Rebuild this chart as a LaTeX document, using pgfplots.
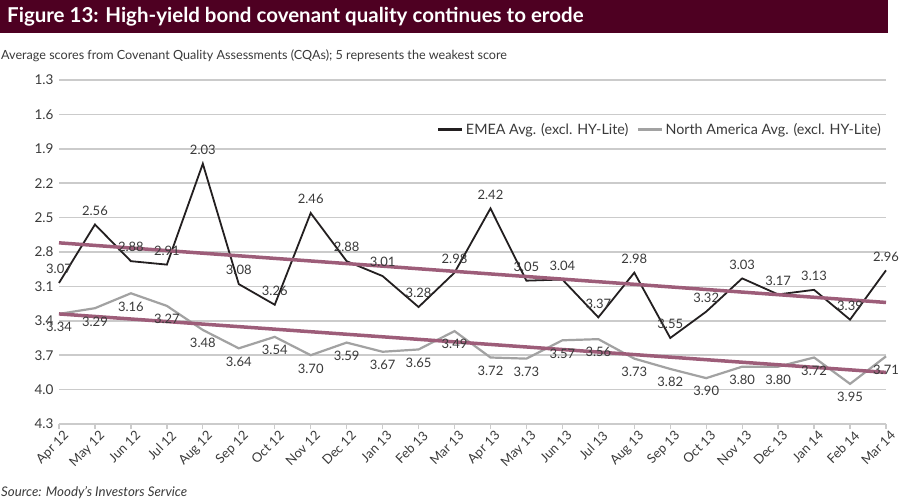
\documentclass[border=0pt]{standalone}
\usepackage{fontspec}
\setmainfont{Lato}
\usepackage{pgfplots}
\usepackage{pgfplotstable}
\pgfplotsset{compat=1.18}

\definecolor{barmaroon}{HTML}{4E0022}
\definecolor{trend}{HTML}{9D5D79}
\definecolor{gridgray}{HTML}{CBCBCB}
\definecolor{emea}{HTML}{231F20}
\definecolor{nam}{HTML}{A2A2A2}
\definecolor{txt}{HTML}{3A3A3A}

% EMEA average CQA scores, Apr 12 - Mar 14
\pgfplotstableread{
x y
0 3.07
1 2.56
2 2.88
3 2.91
4 2.03
5 3.08
6 3.26
7 2.46
8 2.88
9 3.01
10 3.28
11 2.98
12 2.42
13 3.05
14 3.04
15 3.37
16 2.98
17 3.55
18 3.32
19 3.03
20 3.17
21 3.13
22 3.39
23 2.96
}\emea

% North America average CQA scores
\pgfplotstableread{
x y
0 3.34
1 3.29
2 3.16
3 3.27
4 3.48
5 3.64
6 3.54
7 3.70
8 3.59
9 3.67
10 3.65
11 3.49
12 3.72
13 3.73
14 3.57
15 3.56
16 3.73
17 3.82
18 3.90
19 3.80
20 3.80
21 3.72
22 3.95
23 3.71
}\nam

\begin{document}
\begin{tikzpicture}[x=1pt,y=1pt]
\useasboundingbox (0,0) rectangle (900,502);
\fill[white] (0,0) rectangle (900,502);
\fill[barmaroon] (0,469) rectangle (888,502);
\node[anchor=west, text=white, inner sep=0pt, font=\fontsize{20.5}{24}\selectfont\bfseries] at (7,485.5)
  {Figure 13: High-yield bond covenant quality continues to erode};
\node[anchor=base west, inner sep=0pt, text=txt, font=\fontsize{12.6}{14}\selectfont] at (1,442)
  {Average scores from Covenant Quality Assessments (CQAs); 5 represents the weakest score};
\node[anchor=base west, inner sep=0pt, text=txt, font=\fontsize{13.3}{15}\selectfont\itshape] at (1,5)
  {Source: Moody's Investors Service};

\begin{axis}[
    at={(59pt,78pt)}, anchor=south west,
    scale only axis,
    width=827pt, height=344pt,
    xmin=0, xmax=23,
    ymin=1.3, ymax=4.3,
    y dir=reverse,
    ytick={1.3,1.6,1.9,2.2,2.5,2.8,3.1,3.4,3.7,4.0,4.3},
    yticklabel style={/pgf/number format/.cd, fixed, fixed zerofill, precision=1, /tikz/.cd, xshift=-2pt},
    xtick={0,...,23},
    xticklabels={Apr 12,May 12,Jun 12,Jul 12,Aug 12,Sep 12,Oct 12,Nov 12,Dec 12,Jan 13,Feb 13,Mar 13,
                 Apr 13,May 13,Jun 13,Jul 13,Aug 13,Sep 13,Oct 13,Nov 13,Dec 13,Jan 14,Feb 14,Mar 14},
    xticklabel style={rotate=45, anchor=north east, inner sep=1pt, xshift=3pt, yshift=-2pt,
        font=\fontsize{13}{15}\selectfont},
    /pgf/number format/assume math mode=true,
    tick label style={font=\fontsize{13.5}{15}\selectfont, text=txt},
    axis x line*=bottom,
    axis y line*=left,
    x axis line style={gridgray, line width=1.5pt, -},
    y axis line style={draw=none},
    ytick style={draw=none},
    xtick align=outside,
    major tick length=5pt,
    xtick style={gridgray, line width=1.3pt},
    ymajorgrids,
    grid style={gridgray, line width=1.5pt},
    clip=false,
    legend style={at={(1.0,0.855)}, anchor=east, draw=none, fill=none,
        font=\fontsize{14.3}{16}\selectfont, text=txt,
        /tikz/every even column/.append style={column sep=6pt}},
    legend columns=2,
    legend image code/.code={\draw[#1, line width=3.2pt] (0pt,0pt) -- (24pt,0pt);},
    every node near coord/.append style={font=\fontsize{13}{15}\selectfont, text=txt},
    nodes near coords={\pgfmathprintnumber[fixed, fixed zerofill, precision=2]{\pgfplotspointmeta}},
    point meta=y,
]
\addplot[emea, line width=1.8pt, mark=none,
    every node near coord/.append style={anchor=south, yshift=5pt}] table[x=x, y=y] {\emea};
\addlegendentry{EMEA Avg. (excl. HY-Lite)}
\addplot[nam, line width=2.2pt, mark=none,
    every node near coord/.append style={anchor=north, yshift=-4pt}] table[x=x, y=y] {\nam};
\addlegendentry{North America Avg. (excl. HY-Lite)}
% linear trends
\addplot[trend, line width=3.5pt, forget plot, nodes near coords={}] coordinates {(0,2.72) (23,3.24)};
\addplot[trend, line width=3.5pt, forget plot, nodes near coords={}] coordinates {(0,3.34) (23,3.85)};
\end{axis}
\end{tikzpicture}
\end{document}
